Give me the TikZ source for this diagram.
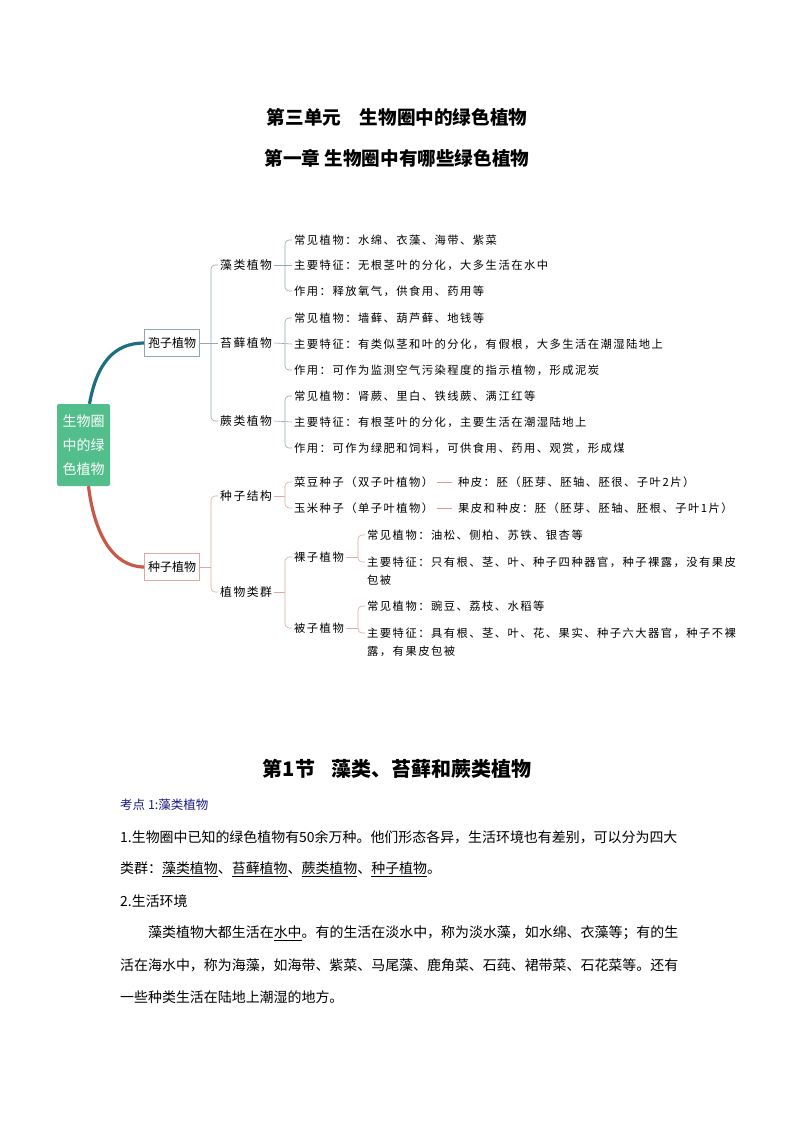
\documentclass[tikz,border=0pt]{standalone}
\usepackage{fontspec}
\setmainfont{Noto Sans CJK SC}
\newfontfamily\mm[LetterSpace=13]{Noto Sans CJK SC}
\usetikzlibrary{calc}
\definecolor{rootg}{HTML}{52BE8C}
\definecolor{teal}{HTML}{1D6E80}
\definecolor{redc}{HTML}{C9574A}
\definecolor{spb}{HTML}{93A9B2}
\definecolor{rdb}{HTML}{DDAAA4}
\definecolor{navy}{HTML}{1A1A80}
\tikzset{
  l3/.style={anchor=west, inner sep=0pt, font=\mm\fontsize{11.3}{13}\selectfont},
  l2/.style={anchor=west, inner sep=0pt, font=\mm\fontsize{11.8}{14}\selectfont},
  sbr/.style={draw=spb, line width=0.6pt, rounded corners=4pt},
  rbr/.style={draw=rdb, line width=0.6pt, rounded corners=4pt},
  body/.style={anchor=west, inner sep=0pt, font=\fontsize{13.95}{16}\selectfont},
  ttl/.style={inner sep=0pt, font=\bfseries\fontsize{18.6}{20}\selectfont},
  boxs/.style={draw=#1, line width=0.6pt, minimum width=55pt, minimum height=27pt, inner sep=1pt, font=\fontsize{12}{14}\selectfont},
}
\begin{document}
\begin{tikzpicture}[x=1pt,y=-1pt]
\fill[white] (0,0) rectangle (794,1123);
\useasboundingbox (0,0) rectangle (794,1123);

% titles
\node[ttl] (t1) at (397,117) {第三单元　生物圈中的绿色植物};
\node[ttl] (t2) at (397,158) {第一章 生物圈中有哪些绿色植物};

% root
\node[fill=rootg, rounded corners=2pt, minimum width=53pt, minimum height=82pt, inner sep=0pt,
      text=white, align=center, font=\fontsize{14}{24}\selectfont] (root) at (83.5,445) {生物圈\\中的绿\\色植物};

\node[boxs=spb] (sp) at (172,343) {孢子植物};
\node[boxs=rdb] (sd) at (172,567) {种子植物};

\draw[teal, line width=3.2pt] ([xshift=6pt]root.north) .. controls (97,362) and (115,343) .. (sp.west);
\draw[redc, line width=3.2pt] ([xshift=5pt]root.south) .. controls (94,532) and (112,567) .. (sd.west);

% spore level 2
\node[l2] (z1) at (220,265) {藻类植物};
\node[l2] (z2) at (220,343) {苔藓植物};
\node[l2] (z3) at (220,421) {蕨类植物};
\draw[sbr] ([xshift=-2pt]z1.west) -| ($(z3.west)+(-9pt,0)$) -- ([xshift=-2pt]z3.west);
\draw[sbr] (sp.east) -- ([xshift=-2pt]z2.west);

% algae
\node[l3] (a1) at (294,240) {常见植物：水绵、衣藻、海带、紫菜};
\node[l3] (a2) at (294,265) {主要特征：无根茎叶的分化，大多生活在水中};
\node[l3] (a3) at (294,291) {作用：释放氧气，供食用、药用等};
\draw[sbr] ([xshift=-2pt]a1.west) -| ($(a3.west)+(-9pt,0)$) -- ([xshift=-2pt]a3.west);
\draw[sbr] ([xshift=2pt]z1.east) -- ([xshift=-2pt]a2.west);

% moss
\node[l3] (m1) at (294,318) {常见植物：墙藓、葫芦藓、地钱等};
\node[l3] (m2) at (294,344) {主要特征：有类似茎和叶的分化，有假根，大多生活在潮湿陆地上};
\node[l3] (m3) at (294,370) {作用：可作为监测空气污染程度的指示植物，形成泥炭};
\draw[sbr] ([xshift=-2pt]m1.west) -| ($(m3.west)+(-9pt,0)$) -- ([xshift=-2pt]m3.west);
\draw[sbr] ([xshift=2pt]z2.east) -- ([xshift=-2pt]m2.west);

% fern
\node[l3] (f1) at (294,396) {常见植物：肾蕨、里白、铁线蕨、满江红等};
\node[l3] (f2) at (294,422) {主要特征：有根茎叶的分化，主要生活在潮湿陆地上};
\node[l3] (f3) at (294,448) {作用：可作为绿肥和饲料，可供食用、药用、观赏，形成煤};
\draw[sbr] ([xshift=-2pt]f1.west) -| ($(f3.west)+(-9pt,0)$) -- ([xshift=-2pt]f3.west);
\draw[sbr] ([xshift=2pt]z3.east) -- ([xshift=-2pt]f2.west);

% seed level 2
\node[l2] (s1) at (220,496) {种子结构};
\node[l2] (s2) at (220,592) {植物类群};
\draw[rbr] ([xshift=-2pt]s1.west) -| ($(s2.west)+(-9pt,0)$) -- ([xshift=-2pt]s2.west);
\draw[rbr] (sd.east) -- ($(s1.west |- sd.east)+(-9pt,0)$);

% seed structure
\node[l3] (b1) at (294,482) {菜豆种子（双子叶植物）};
\node[l3] (b2) at (294,508) {玉米种子（单子叶植物）};
\draw[rbr] ([xshift=-2pt]b1.west) -| ($(b2.west)+(-9pt,0)$) -- ([xshift=-2pt]b2.west);
\draw[rbr] ([xshift=2pt]s1.east) -- ($(b1.west |- s1.east)+(-9pt,0)$);
\node[l3] (c1) at (458,482) {种皮：胚（胚芽、胚轴、胚很、子叶2片）};
\node[l3] (c2) at (458,508) {果皮和种皮：胚（胚芽、胚轴、胚根、子叶1片）};
\draw[redc!60, line width=0.6pt] ($(c1.west)+(-21pt,0)$) -- ($(c1.west)+(-6pt,0)$);
\draw[redc!60, line width=0.6pt] ($(c2.west)+(-21pt,0)$) -- ($(c2.west)+(-6pt,0)$);

% plant groups
\node[l3] (g1) at (294,557) {裸子植物};
\node[l3] (g2) at (294,628) {被子植物};
\draw[rbr] ([xshift=-2pt]g1.west) -| ($(g2.west)+(-9pt,0)$) -- ([xshift=-2pt]g2.west);
\draw[rbr] ([xshift=2pt]s2.east) -- ($(g1.west |- s2.east)+(-9pt,0)$);

\node[l3] (n1) at (367,535) {常见植物：油松、侧柏、苏铁、银杏等};
\node[l3] (n2) at (367,562) {主要特征：只有根、茎、叶、种子四种器官，种子裸露，没有果皮};
\node[l3] (n3) at (367,580) {包被};
\draw[rbr] ([xshift=-2pt]n1.west) -| ($(n2.west)+(-9pt,0)$) -- ([xshift=-2pt]n2.west);
\draw[rbr] ([xshift=2pt]g1.east) -- ($(n1.west |- g1.east)+(-9pt,0)$);

\node[l3] (p1) at (367,606) {常见植物：豌豆、荔枝、水稻等};
\node[l3] (p2) at (367,633) {主要特征：具有根、茎、叶、花、果实、种子六大器官，种子不裸};
\node[l3] (p3) at (367,651) {露，有果皮包被};
\draw[rbr] ([xshift=-2pt]p1.west) -| ($(p2.west)+(-9pt,0)$) -- ([xshift=-2pt]p2.west);
\draw[rbr] ([xshift=2pt]g2.east) -- ($(p1.west |- g2.east)+(-9pt,0)$);

% section
\node[inner sep=0pt, font=\bfseries\fontsize{20}{22}\selectfont] (t3) at (397,769) {第1节\hspace{0.8em}藻类、苔藓和蕨类植物};
\node[anchor=west, inner sep=0pt, text=navy, font=\fontsize{12.5}{14}\selectfont] (k1) at (120,805) {考点 1:藻类植物};
\node[body] (x1) at (120,837) {1.生物圈中已知的绿色植物有50余万种。他们形态各异，生活环境也有差别，可以分为四大};
\node[body] (x2) at (120,869) {类群：\underline{藻类植物}、\underline{苔藓植物}、\underline{蕨类植物}、\underline{种子植物}。};
\node[body] (x3) at (120,901) {2.生活环境};
\node[body] (x4) at (148,933) {藻类植物大都生活在\underline{水中}。有的生活在淡水中，称为淡水藻，如水绵、衣藻等；有的生};
\node[body] (x5) at (120,965) {活在海水中，称为海藻，如海带、紫菜、马尾藻、鹿角菜、石莼、裙带菜、石花菜等。还有};
\node[body] (x6) at (120,997) {一些种类生活在陆地上潮湿的地方。};
\end{tikzpicture}
\end{document}
